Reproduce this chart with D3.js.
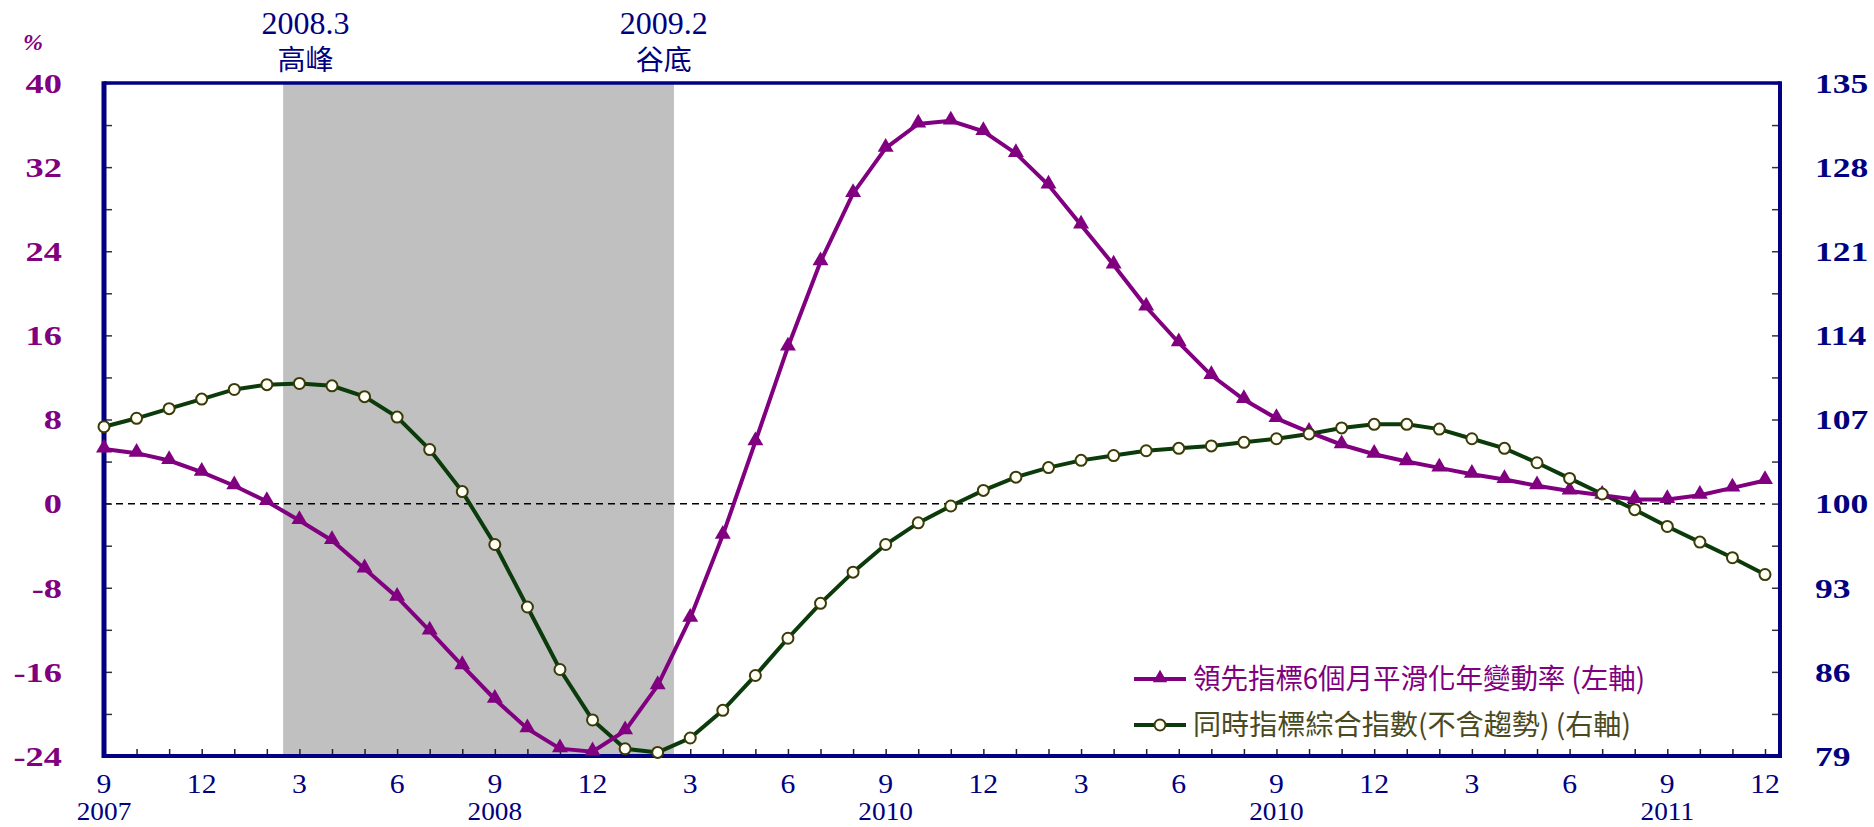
<!DOCTYPE html>
<html>
<head>
<meta charset="utf-8">
<script src="https://cdn.jsdelivr.net/npm/d3@7"></script>
<style>
  html, body { margin: 0; padding: 0; background: #fff; }
  svg { display: block; }
</style>
</head>
<body>
<div id="chart"></div>
<script>
(function () {
  const WIDTH  = 1874;
  const HEIGHT = 827;
  const PLOT   = { left: 104, right: 1780, top: 83, bottom: 756 };

  // months 2007-09 .. 2011-12
  const months = [
    "2007-09","2007-10","2007-11","2007-12",
    "2008-01","2008-02","2008-03","2008-04","2008-05","2008-06","2008-07","2008-08","2008-09","2008-10","2008-11","2008-12",
    "2009-01","2009-02","2009-03","2009-04","2009-05","2009-06","2009-07","2009-08","2009-09","2009-10","2009-11","2009-12",
    "2010-01","2010-02","2010-03","2010-04","2010-05","2010-06","2010-07","2010-08","2010-09","2010-10","2010-11","2010-12",
    "2011-01","2011-02","2011-03","2011-04","2011-05","2011-06","2011-07","2011-08","2011-09","2011-10","2011-11","2011-12"
  ];

  // 領先指標6個月平滑化年變動率 (%), left axis
  const leading = [
    5.2, 4.8, 4.1, 3.0, 1.7, 0.2, -1.6, -3.5, -6.2, -8.9, -12.1, -15.4, -18.6, -21.4, -23.3, -23.6,
    -21.6, -17.3, -10.9, -3.0, 5.9, 14.9, 23.0, 29.5, 33.8, 36.1, 36.4, 35.4,
    33.3, 30.3, 26.5, 22.7, 18.7, 15.3, 12.2, 9.9, 8.1, 6.8, 5.6, 4.7,
    4.0, 3.4, 2.8, 2.3, 1.7, 1.2, 0.8, 0.4, 0.4, 0.8, 1.5, 2.2
  ];

  // 同時指標綜合指數(不含趨勢), right axis
  const coincident = [
    106.4, 107.1, 107.9, 108.7, 109.5, 109.9, 110.0, 109.8, 108.9, 107.2, 104.5, 101.0, 96.6, 91.4, 86.2, 82.0,
    79.6, 79.3, 80.5, 82.8, 85.7, 88.8, 91.7, 94.3, 96.6, 98.4, 99.8, 101.1,
    102.2, 103.0, 103.6, 104.0, 104.4, 104.6, 104.8, 105.1, 105.4, 105.8, 106.3, 106.6,
    106.6, 106.2, 105.4, 104.6, 103.4, 102.1, 100.8, 99.5, 98.1, 96.8, 95.5, 94.1
  ];

  const leftTicks  = [40, 32, 24, 16, 8, 0, -8, -16, -24];
  const rightTicks = [135, 128, 121, 114, 107, 100, 93, 86, 79];
  const monthTicks = [
    ["2007-09","9"],["2007-12","12"],["2008-03","3"],["2008-06","6"],["2008-09","9"],["2008-12","12"],
    ["2009-03","3"],["2009-06","6"],["2009-09","9"],["2009-12","12"],["2010-03","3"],["2010-06","6"],
    ["2010-09","9"],["2010-12","12"],["2011-03","3"],["2011-06","6"],["2011-09","9"],["2011-12","12"]
  ];
  const yearTicks = [["2007-09","2007"],["2008-09","2008"],["2009-09","2010"],["2010-09","2010"],["2011-09","2011"]];

  // recession shading: peak 2008.3, trough 2009.2
  const peak   = { month: "2008-03", date: "2008.3", label: "高峰" };
  const trough = { month: "2009-02", date: "2009.2", label: "谷底" };

  const legendItems = [
    { name: "領先指標6個月平滑化年變動率 (左軸)", kind: "tri" },
    { name: "同時指標綜合指數(不含趨勢) (右軸)", kind: "circ" }
  ];

  const NAVY   = "#000080";
  const PURPLE = "#800080";
  const GREEN  = "#0b3b0b";
  const OLIVE  = "#4a4a1e";
  const SERIF  = "'Liberation Serif', 'DejaVu Serif', serif";
  const CJK    = "'Noto Sans CJK TC', 'Noto Sans CJK SC', sans-serif";

  const svg = d3.select("#chart").append("svg")
    .attr("width", WIDTH)
    .attr("height", HEIGHT)
    .attr("viewBox", `0 0 ${WIDTH} ${HEIGHT}`);

  const idx = m => months.indexOf(m);

  const x = d3.scaleLinear()
    .domain([0, months.length - 1])
    .range([PLOT.left, 1765]);

  const yL = d3.scaleLinear().domain([-24, 40]).range([PLOT.bottom, PLOT.top]);
  const yR = d3.scaleLinear().domain([79, 135]).range([PLOT.bottom, PLOT.top]);

  // shaded contraction
  svg.append("rect")
    .attr("x", x(idx(peak.month) - 0.5))
    .attr("y", PLOT.top)
    .attr("width", x(idx(trough.month) + 0.5) - x(idx(peak.month) - 0.5))
    .attr("height", PLOT.bottom - PLOT.top)
    .attr("fill", "#c0c0c0");

  // zero line
  svg.append("line")
    .attr("x1", PLOT.left).attr("x2", x(months.length - 1))
    .attr("y1", yL(0)).attr("y2", yL(0))
    .attr("stroke", "#000").attr("stroke-width", 1.5)
    .attr("stroke-dasharray", "7,5");

  // ticks
  const leftMinor = d3.range(-24, 40.1, 4);
  svg.append("g")
    .attr("transform", `translate(${PLOT.left},0)`)
    .call(d3.axisRight(yL).tickValues(leftMinor).tickSize(8).tickFormat(""))
    .call(g => g.select(".domain").remove())
    .call(g => g.selectAll("line").attr("stroke", "#333").attr("stroke-width", 1.5));

  const rightMinor = d3.range(79, 135.1, 3.5);
  svg.append("g")
    .attr("transform", `translate(${PLOT.right},0)`)
    .call(d3.axisLeft(yR).tickValues(rightMinor).tickSize(8).tickFormat(""))
    .call(g => g.select(".domain").remove())
    .call(g => g.selectAll("line").attr("stroke", "#333").attr("stroke-width", 1.5));

  svg.append("g")
    .attr("transform", `translate(0,${PLOT.bottom})`)
    .call(d3.axisTop(x).tickValues(d3.range(months.length)).tickSize(7).tickFormat(""))
    .call(g => g.select(".domain").remove())
    .call(g => g.selectAll("line").attr("stroke", "#222").attr("stroke-width", 1.5));

  // frame
  const frame = svg.append("g").attr("stroke", NAVY).attr("fill", "none");
  frame.append("line").attr("x1", PLOT.left).attr("x2", PLOT.right).attr("y1", PLOT.top).attr("y2", PLOT.top).attr("stroke-width", 3.5);
  frame.append("line").attr("x1", PLOT.left).attr("x2", PLOT.right).attr("y1", PLOT.bottom).attr("y2", PLOT.bottom).attr("stroke-width", 4);
  frame.append("line").attr("x1", PLOT.left).attr("x2", PLOT.left).attr("y1", PLOT.top - 1.7).attr("y2", PLOT.bottom + 2).attr("stroke-width", 5);
  frame.append("line").attr("x1", PLOT.right).attr("x2", PLOT.right).attr("y1", PLOT.top - 1.7).attr("y2", PLOT.bottom + 2).attr("stroke-width", 4);

  // axis labels (the original's digits are wide, so stretch them a little)
  svg.append("g").selectAll("text")
    .data(leftTicks).join("text")
    .attr("transform", d => `translate(62,${yL(d)}) scale(1.3,1)`)
    .attr("dy", "0.35em")
    .attr("text-anchor", "end")
    .attr("font-family", SERIF).attr("font-weight", "bold")
    .attr("font-size", 28).attr("fill", PURPLE)
    .text(d => d);

  svg.append("text")
    .attr("x", 33).attr("y", 50)
    .attr("text-anchor", "middle")
    .attr("font-family", SERIF).attr("font-style", "italic").attr("font-weight", "bold")
    .attr("font-size", 24).attr("fill", PURPLE)
    .text("%");

  svg.append("g").selectAll("text")
    .data(rightTicks).join("text")
    .attr("transform", d => `translate(1815,${yR(d)}) scale(1.27,1)`)
    .attr("dy", "0.35em")
    .attr("font-family", SERIF).attr("font-weight", "bold")
    .attr("font-size", 28).attr("fill", NAVY)
    .text(d => d);

  svg.append("g").selectAll("text")
    .data(monthTicks).join("text")
    .attr("transform", d => `translate(${x(idx(d[0]))},793) scale(1.1,1)`)
    .attr("text-anchor", "middle")
    .attr("font-family", SERIF).attr("font-size", 27).attr("fill", NAVY)
    .text(d => d[1]);

  svg.append("g").selectAll("text")
    .data(yearTicks).join("text")
    .attr("transform", d => `translate(${x(idx(d[0]))},820) scale(1.05,1)`)
    .attr("text-anchor", "middle")
    .attr("font-family", SERIF).attr("font-size", 26).attr("fill", NAVY)
    .text(d => d[1]);

  // peak / trough labels
  [peak, trough].forEach(p => {
    const cx = x(idx(p.month)) + 6;
    svg.append("text")
      .attr("x", cx).attr("y", 34)
      .attr("text-anchor", "middle")
      .attr("font-family", SERIF).attr("font-size", 32).attr("fill", NAVY)
      .text(p.date);
    svg.append("text")
      .attr("x", cx).attr("y", 70)
      .attr("text-anchor", "middle")
      .attr("font-family", CJK).attr("font-size", 28).attr("fill", NAVY)
      .text(p.label);
  });

  // series
  const lineL = d3.line().x((d, i) => x(i)).y(d => yL(d));
  const lineR = d3.line().x((d, i) => x(i)).y(d => yR(d));

  svg.append("path").datum(coincident)
    .attr("fill", "none").attr("stroke", GREEN).attr("stroke-width", 4)
    .attr("d", lineR);

  svg.append("path").datum(leading)
    .attr("fill", "none").attr("stroke", PURPLE).attr("stroke-width", 4)
    .attr("d", lineL);

  const tri = d3.symbol(d3.symbolTriangle, 110);

  svg.append("g").selectAll("path")
    .data(leading).join("path")
    .attr("transform", (d, i) => `translate(${x(i)},${yL(d) - 1})`)
    .attr("d", tri)
    .attr("fill", PURPLE);

  svg.append("g").selectAll("circle")
    .data(coincident).join("circle")
    .attr("cx", (d, i) => x(i)).attr("cy", d => yR(d))
    .attr("r", 5.5)
    .attr("fill", "#fffff4").attr("stroke", "#3a3a0a").attr("stroke-width", 2);

  // legend
  const legend = svg.append("g").attr("transform", "translate(1134,679)");
  legendItems.forEach((item, k) => {
    const g = legend.append("g").attr("transform", `translate(0,${k * 46})`);
    g.append("line").attr("x1", 0).attr("x2", 52).attr("y1", 0).attr("y2", 0)
      .attr("stroke", item.kind === "tri" ? PURPLE : GREEN).attr("stroke-width", 4);
    if (item.kind === "tri") {
      g.append("path").attr("d", d3.symbol(d3.symbolTriangle, 90)()).attr("transform", "translate(26,-1)").attr("fill", PURPLE);
    } else {
      g.append("circle").attr("cx", 26).attr("cy", 0).attr("r", 5.5)
        .attr("fill", "#fffff4").attr("stroke", "#3a3a0a").attr("stroke-width", 2);
    }
    g.append("text")
      .attr("x", 59).attr("y", 0).attr("dy", "0.36em")
      .attr("font-family", CJK).attr("font-size", 28)
      .attr("fill", item.kind === "tri" ? PURPLE : OLIVE)
      .attr("textLength", item.kind === "tri" ? 452 : 438)
      .attr("lengthAdjust", "spacingAndGlyphs")
      .text(item.name);
  });
})();
</script>
</body>
</html>
